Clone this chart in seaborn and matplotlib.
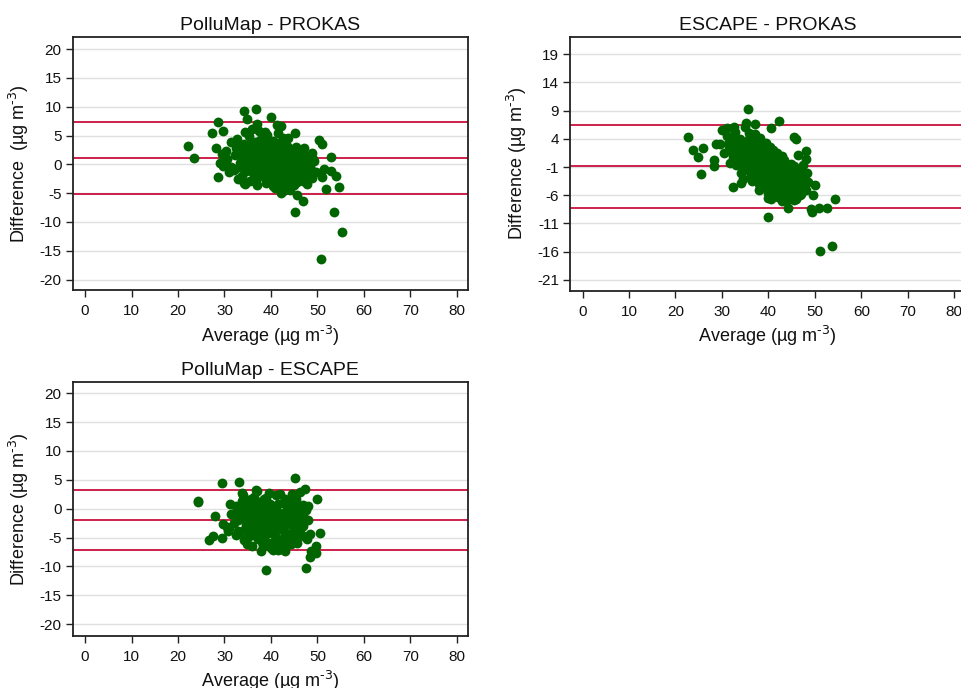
import matplotlib
matplotlib.use("Agg")
import matplotlib.pyplot as plt
import seaborn as sns
import pandas as pd

sns.set_theme(style="white")
plt.rcParams["font.family"] = ["Liberation Sans", "DejaVu Sans"]
plt.rcParams["mathtext.default"] = "regular"

# Bland-Altman data: average of the two models vs. their difference (ug/m3)
pollumap_prokas = [
    (22.2, 3.2), (23.4, 1.1), (28.5, 7.4), (27.4, 5.4), (29.7, 5.8), (28.1, 2.9),
    (28.5, -2.2), (34.2, 9.3), (36.7, 9.6), (34.9, 7.8), (40.1, 8.2), (37.0, 7.0),
    (38.7, 5.6), (41.2, 6.8), (42.2, 6.7), (41.6, 5.5), (45.2, 5.4), (43.7, 4.6),
    (50.3, 4.3), (51.0, 3.5), (53.0, 1.35), (47.2, 2.9), (48.8, 2.0), (51.5, -0.8),
    (52.9, -1.2), (54.0, -2.0), (50.9, -2.2), (51.8, -4.3), (54.7, -4.0), (47.8, -3.4),
    (45.6, -5.4), (46.9, -6.4), (45.2, -8.2), (53.5, -8.3), (55.3, -11.8), (50.7, -16.4),
    (42.1, -4.9), (40.5, -3.7), (43.1, -4.0), (34.2, -3.3), (34.4, -3.5), (33.7, -2.0),
    (31.5, -0.5), (29.0, 0.3), (29.7, -0.3), (29.4, 1.75),
    (31.5, 3.8), (32.2, 1.6), (32.8, 4.4), (33.1, -0.4), (33.6, 2.5), (34.0, 0.8),
    (34.3, 3.6), (34.7, -1.2), (35.0, 1.9), (35.2, 4.9), (35.5, 0.2), (35.8, 2.9),
    (36.1, -0.8), (36.3, 1.2), (36.6, 3.9), (36.9, -2.1), (37.1, 2.2), (37.3, 0.5),
    (37.6, 4.3), (37.8, -0.3), (38.0, 1.7), (38.2, 3.1), (38.4, -1.5), (38.7, 0.9),
    (38.9, 2.6), (39.1, 5.1), (39.3, -0.7), (39.5, 1.4), (39.7, 3.4), (39.9, 0.1),
    (40.1, 2.0), (40.3, -2.4), (40.5, 4.0), (40.7, 0.7), (40.9, 2.9), (41.1, -1.1),
    (41.3, 1.6), (41.5, 3.7), (41.7, -0.2), (41.9, 0.9), (42.1, 2.4), (42.3, -2.8),
    (42.5, 1.2), (42.7, 4.6), (42.9, -0.6), (43.1, 2.0), (43.3, 0.3), (43.5, 3.2),
    (43.7, -1.8), (43.9, 1.0), (44.1, -3.1), (44.3, 2.6), (44.5, 0.0), (44.7, -1.4),
    (44.9, 1.7), (45.2, -0.4), (45.4, 3.0), (45.7, -2.2), (46.0, 0.8), (46.3, -1.0),
    (46.6, 2.2), (46.9, -2.9), (47.2, 0.4), (47.6, -1.6), (48.0, 1.3), (48.4, -0.5),
    (48.8, -2.4), (49.3, 0.6), (49.8, -1.3), (34.5, 5.6), (36.0, 6.2), (37.5, 5.8),
    (38.5, 4.7), (33.0, -2.6), (35.6, -2.9), (37.0, -3.6), (39.0, -3.2), (40.8, -4.1),
    (42.6, -4.6), (44.0, -4.4), (45.0, -3.6), (30.5, 1.0), (31.0, -1.4), (32.0, -0.9),
    (30.3, 2.3), (36.8, 0.0), (38.1, -0.9), (40.0, -0.5), (41.0, 0.4), (43.0, -1.2),
    (39.6, 2.8), (37.9, 1.1), (35.9, 1.5), (44.6, 0.9), (46.2, 1.5), (47.8, -0.1),
    (42.0, 3.2), (40.4, 1.1), (38.6, 0.2), (36.4, 2.5), (34.2, 1.8), (33.4, 3.1),
    (32.5, 2.8), (33.3, 0.3), (33.9, 1.3), (34.6, 2.7), (35.1, -0.6), (35.4, 3.4),
    (35.7, 1.0), (36.2, -1.5), (36.5, 0.6), (36.8, 3.2), (37.2, -1.0), (37.4, 1.6),
    (37.7, 2.7), (38.0, 0.0), (38.3, 2.2), (38.5, -0.4), (38.8, 3.7), (39.0, 1.0),
    (39.2, -1.9), (39.4, 0.6), (39.8, 1.8), (40.0, 3.2), (40.2, -1.3), (40.6, 0.2),
    (40.8, 1.9), (41.0, -2.2), (41.2, 2.6), (41.4, 0.0), (41.6, 1.2), (41.8, -1.5),
    (42.0, 1.8), (42.2, -0.3), (42.4, 0.6), (42.8, 1.5), (43.0, 3.8), (43.2, -2.4),
    (43.4, 0.9), (43.6, 2.4), (43.8, -0.5), (44.0, 1.4), (44.2, -2.0), (44.4, 0.4),
    (44.8, 2.2), (45.0, -1.0), (45.3, 1.1), (45.6, -3.0), (45.9, 0.2), (46.1, -1.9),
    (46.5, 0.9), (46.8, -0.8), (47.0, 1.8), (47.4, -2.3), (48.2, 0.0), (48.6, -1.0),
    (49.0, 1.0), (34.8, 0.2), (36.7, -2.8), (38.9, -2.6), (41.5, -3.3), (43.5, -3.5),
    (37.6, -2.0), (39.7, -1.5),
]

escape_prokas = [
    (35.6, 9.3), (22.7, 4.3), (23.8, 2.0), (25.9, 2.3), (24.9, 0.7), (25.4, -2.3),
    (42.3, 7.2), (35.1, 6.8), (37.0, 6.6), (31.1, 5.9), (32.6, 6.0), (40.5, 5.9),
    (45.5, 4.4), (45.9, 4.0), (28.7, 3.0), (29.6, 3.1), (48.1, 1.8), (46.3, 1.2),
    (48.1, 0.5), (28.3, 0.3), (28.3, -0.9), (47.5, -0.7), (46.8, -2.3), (32.4, -4.5),
    (34.0, -3.8), (50.1, -4.1), (49.5, -6.0), (54.4, -6.6), (49.2, -8.5), (50.9, -8.2),
    (52.6, -8.3), (49.4, -8.9), (44.3, -8.2), (39.8, -9.8), (51.1, -15.8), (53.7, -15.0),
    (38.0, -5.0), (40.5, -6.7), (45.5, -6.9), (45.2, -5.9),
    (31.0, 4.5), (31.5, 2.0), (32.0, 3.6), (32.4, 0.8), (32.8, 5.2), (33.2, 2.7),
    (33.5, -0.5), (33.9, 4.0), (34.2, 1.5), (34.6, 3.1), (34.9, -1.4), (35.2, 0.3),
    (35.5, 2.3), (35.8, 5.0), (36.1, -0.8), (36.4, 1.2), (36.7, 3.4), (37.0, -2.3),
    (37.3, 0.1), (37.6, 2.0), (37.9, -1.2), (38.2, 4.1), (38.5, 0.9), (38.8, -2.8),
    (39.1, 1.8), (39.4, -0.4), (39.7, -3.6), (40.0, 0.5), (40.3, 2.6), (40.6, -1.7),
    (40.9, -4.4), (41.2, 0.0), (41.5, -2.4), (41.8, 1.4), (42.1, -3.3), (42.4, -0.9),
    (42.7, -5.0), (43.0, -2.0), (43.3, 0.3), (43.6, -3.8), (43.9, -1.4), (44.2, -5.5),
    (44.5, -2.7), (44.8, -0.4), (45.1, -4.2), (45.4, -1.9), (45.7, -3.2), (46.0, -5.3),
    (46.4, -2.5), (46.8, -4.0), (47.2, -1.6), (47.6, -3.4), (48.0, -5.0), (36.0, 3.0),
    (34.0, -2.0), (35.0, 6.0), (37.2, 4.8), (39.5, 3.2), (41.0, 2.0), (43.0, 1.0),
    (38.0, -4.0), (40.0, -5.6), (42.0, -6.3), (44.0, -6.8), (46.0, -6.6), (36.5, -3.5),
    (39.0, -1.0), (41.4, -1.0), (40.2, -2.8), (38.4, -2.0), (37.8, 1.2), (36.2, 0.0),
    (35.0, 1.8), (33.0, 1.3), (42.6, -1.6), (44.6, -3.6), (43.4, -4.6), (45.6, -0.8),
    (47.0, -5.8), (48.5, -3.6), (31.8, -0.3), (30.5, 1.5), (30.0, 5.5), (34.5, -3.2),
    (39.9, -6.5), (41.6, -5.2), (43.8, -2.6), (38.9, 0.2), (37.0, -0.6), (42.9, -7.0),
    (45.3, -6.4), (40.7, 1.0), (39.2, 2.4), (36.6, 2.1),
    (31.2, 3.0), (32.0, 1.8), (32.6, 4.2), (33.0, -0.6), (33.6, 2.0), (34.0, 3.5),
    (34.4, 0.4), (34.8, 2.4), (35.2, -0.6), (35.6, 1.2), (36.0, -1.8), (36.3, 3.8),
    (36.6, -0.2), (36.9, 1.6), (37.2, -1.5), (37.5, 2.8), (37.8, -0.3), (38.1, 0.8),
    (38.4, -3.0), (38.7, 2.0), (39.0, -1.9), (39.3, 0.6), (39.6, -2.4), (39.9, 1.5),
    (40.2, -0.9), (40.5, -3.5), (40.8, 0.2), (41.1, -2.0), (41.4, -4.0), (41.7, -0.3),
    (42.0, -1.7), (42.3, -4.3), (42.6, 0.4), (42.9, -2.8), (43.2, -5.6), (43.5, -1.0),
    (43.8, -3.2), (44.1, -4.4), (44.4, -1.6), (44.7, -5.0), (45.0, -2.3), (45.3, -3.6),
    (45.6, -5.6), (45.9, -1.5), (46.2, -4.6), (46.5, -3.2), (46.8, -6.0), (47.2, -2.6),
    (47.6, -4.5), (48.2, -2.0), (35.8, 4.0), (38.0, 3.0), (40.5, 1.8), (37.0, -3.0),
    (39.3, -4.6), (41.8, -5.8), (44.0, -2.0), (42.0, 0.8), (34.0, 1.0), (36.2, -2.6),
]

pollumap_escape = [
    (24.4, 1.1), (24.3, 1.3), (29.5, 4.45), (33.1, 4.7), (45.2, 5.4), (50.0, 1.6),
    (48.0, 0.5), (46.4, 0.5), (47.3, 3.4), (46.2, 2.9), (36.8, 3.2), (33.7, 2.7),
    (28.0, -1.3), (29.6, -2.6), (27.6, -4.8), (26.7, -5.5), (29.5, -5.1), (50.5, -4.2),
    (49.7, -6.4), (49.8, -7.6), (48.6, -7.4), (48.4, -8.4), (38.9, -10.6), (47.5, -10.3),
    (42.9, -7.0), (41.6, -7.1), (40.4, -7.2), (37.8, -7.4), (34.8, -6.2), (30.6, -3.1),
    (31.0, -3.4), (33.4, -4.0),
    (31.5, -1.0), (32.0, -2.4), (32.5, 0.5), (33.0, -3.8), (33.4, -1.6), (33.8, 1.4),
    (34.2, -0.3), (34.6, -2.9), (35.0, -4.9), (35.3, 0.9), (35.6, -1.8), (36.0, -3.6),
    (36.3, 2.0), (36.6, -0.7), (36.9, -2.5), (37.2, -5.3), (37.5, 0.3), (37.8, -1.4),
    (38.1, -3.1), (38.4, 1.6), (38.7, -0.1), (39.0, -2.2), (39.3, -4.2), (39.6, -6.0),
    (39.9, 0.8), (40.2, -1.0), (40.5, -2.8), (40.8, -4.7), (41.1, 2.3), (41.4, -0.4),
    (41.7, -1.9), (42.0, -3.5), (42.3, -5.6), (42.6, 1.0), (42.9, -0.9), (43.2, -2.6),
    (43.5, -4.3), (43.8, -6.2), (44.1, 0.2), (44.4, -1.5), (44.7, -3.2), (45.0, -5.0),
    (45.3, 1.6), (45.6, -0.6), (45.9, -2.3), (46.2, -4.0), (46.6, -1.2), (47.0, -3.0),
    (47.5, -0.2), (48.0, -2.0), (48.5, -4.4), (37.0, 3.0), (39.5, 2.8), (42.0, 2.5),
    (44.5, 2.6), (34.0, 2.3), (40.0, -6.8), (38.0, -5.8), (41.9, -6.9), (43.0, -7.4),
    (36.0, -6.4), (34.2, -5.4), (32.4, -4.5), (30.8, -3.9), (31.2, 0.8), (39.0, -0.6),
    (40.6, 0.3), (41.6, -2.9), (38.5, -3.8), (43.6, -1.1), (44.8, -0.3), (46.8, 0.7),
    (47.8, -5.2), (45.7, -6.0), (37.4, -2.0), (35.4, -3.0), (36.8, 1.0), (42.8, -4.9),
    (40.0, -3.3), (38.8, 1.2),
    (32.2, -0.8), (33.0, -2.0), (33.6, 0.2), (34.0, -1.2), (34.4, -3.6), (34.8, 0.7),
    (35.2, -2.0), (35.6, -0.5), (36.0, -2.8), (36.4, 0.4), (36.8, -1.6), (37.2, -3.8),
    (37.6, 1.2), (38.0, -0.8), (38.4, -2.6), (38.8, -4.6), (39.2, 0.2), (39.6, -1.6),
    (40.0, -4.0), (40.4, -0.2), (40.8, -2.0), (41.2, -3.6), (41.6, 0.9), (42.0, -1.2),
    (42.4, -2.4), (42.8, -3.8), (43.2, -0.4), (43.6, -2.0), (44.0, -4.8), (44.4, 1.0),
    (44.8, -1.8), (45.2, -3.8), (45.6, 0.2), (46.0, -1.0), (46.4, -2.8), (46.8, -4.8),
    (47.2, -1.6), (36.2, -4.6), (38.2, -6.4), (40.6, -5.8), (42.6, -6.2), (44.4, -6.2),
    (35.8, 1.6), (39.0, 1.8), (43.0, 1.6), (41.0, -6.4), (37.0, -0.2), (39.8, -3.0),
]

# mean difference and limits of agreement (lower, mean, upper)
limits_pollumap_prokas = [-5.2, 1.1, 7.35]
limits_escape_prokas = [-8.25, -0.88, 6.47]
limits_pollumap_escape = [-7.15, -1.95, 3.25]

titles = ["PolluMap - PROKAS", "ESCAPE - PROKAS", "PolluMap - ESCAPE"]
unit = r"(µg m$^{\text{-3}}$)"
ylabels = ["Difference  " + unit, "Difference " + unit, "Difference " + unit]
xlabel = "Average " + unit
xticks = [0, 10, 20, 30, 40, 50, 60, 70, 80]
yticks_a = [-20, -15, -10, -5, 0, 5, 10, 15, 20]
yticks_b = [-21, -16, -11, -6, -1, 4, 9, 14, 19]

W, H = 961, 688
fig = plt.figure(figsize=(W / 100, H / 100), dpi=100)
fig.patch.set_facecolor("white")


def make_axes(left, top, right, bottom):
    return fig.add_axes([left / W, 1 - bottom / H, (right - left) / W, (bottom - top) / H])


panels = [
    (make_axes(72.5, 37.0, 468.0, 290.5), pollumap_prokas, limits_pollumap_prokas, yticks_a, (-21.9, 22.1)),
    (make_axes(570.0, 36.7, 965.5, 290.7), escape_prokas, limits_escape_prokas, yticks_b, (-22.9, 22.07)),
    (make_axes(72.5, 382.3, 468.0, 635.7), pollumap_escape, limits_pollumap_escape, yticks_a, (-22.0, 21.9)),
]

green = "#006400"
red = "#C8103E"

for i, (ax, pts, lims, yt, ylim) in enumerate(panels):
    df = pd.DataFrame(pts, columns=["average", "difference"])
    ax.set_facecolor("white")
    for y in yt:
        ax.axhline(y, color="#e0e0e0", lw=1.0, zorder=0)
    for y in lims:
        ax.axhline(y, color=red, lw=1.3, zorder=1)
    sns.scatterplot(data=df, x="average", y="difference", ax=ax, color=green,
                    s=50, linewidth=0, zorder=3, legend=False)
    ax.set_xlim(-2.7, 82.4)
    ax.set_ylim(*ylim)
    ax.set_xticks(xticks)
    ax.set_yticks(yt)
    ax.set_xticklabels([str(v) for v in xticks])
    ax.set_yticklabels([str(v) for v in yt])
    ax.tick_params(axis="both", direction="out", length=5, width=1.0, color="#222222",
                   labelsize=11, labelcolor="#111111", pad=3, bottom=True, left=True)
    ax.tick_params(axis="x", pad=5)
    for s in ax.spines.values():
        s.set_color("#222222")
        s.set_linewidth(1.3)
    ax.set_title(titles[i], fontsize=14, pad=5, color="#111111")
    ax.set_xlabel(xlabel, fontsize=13, labelpad=4, color="#111111")
    ax.set_ylabel(ylabels[i], fontsize=13, labelpad=6, color="#111111")
    ax.grid(False)

fig.savefig("out.png", dpi=100, facecolor="white")
